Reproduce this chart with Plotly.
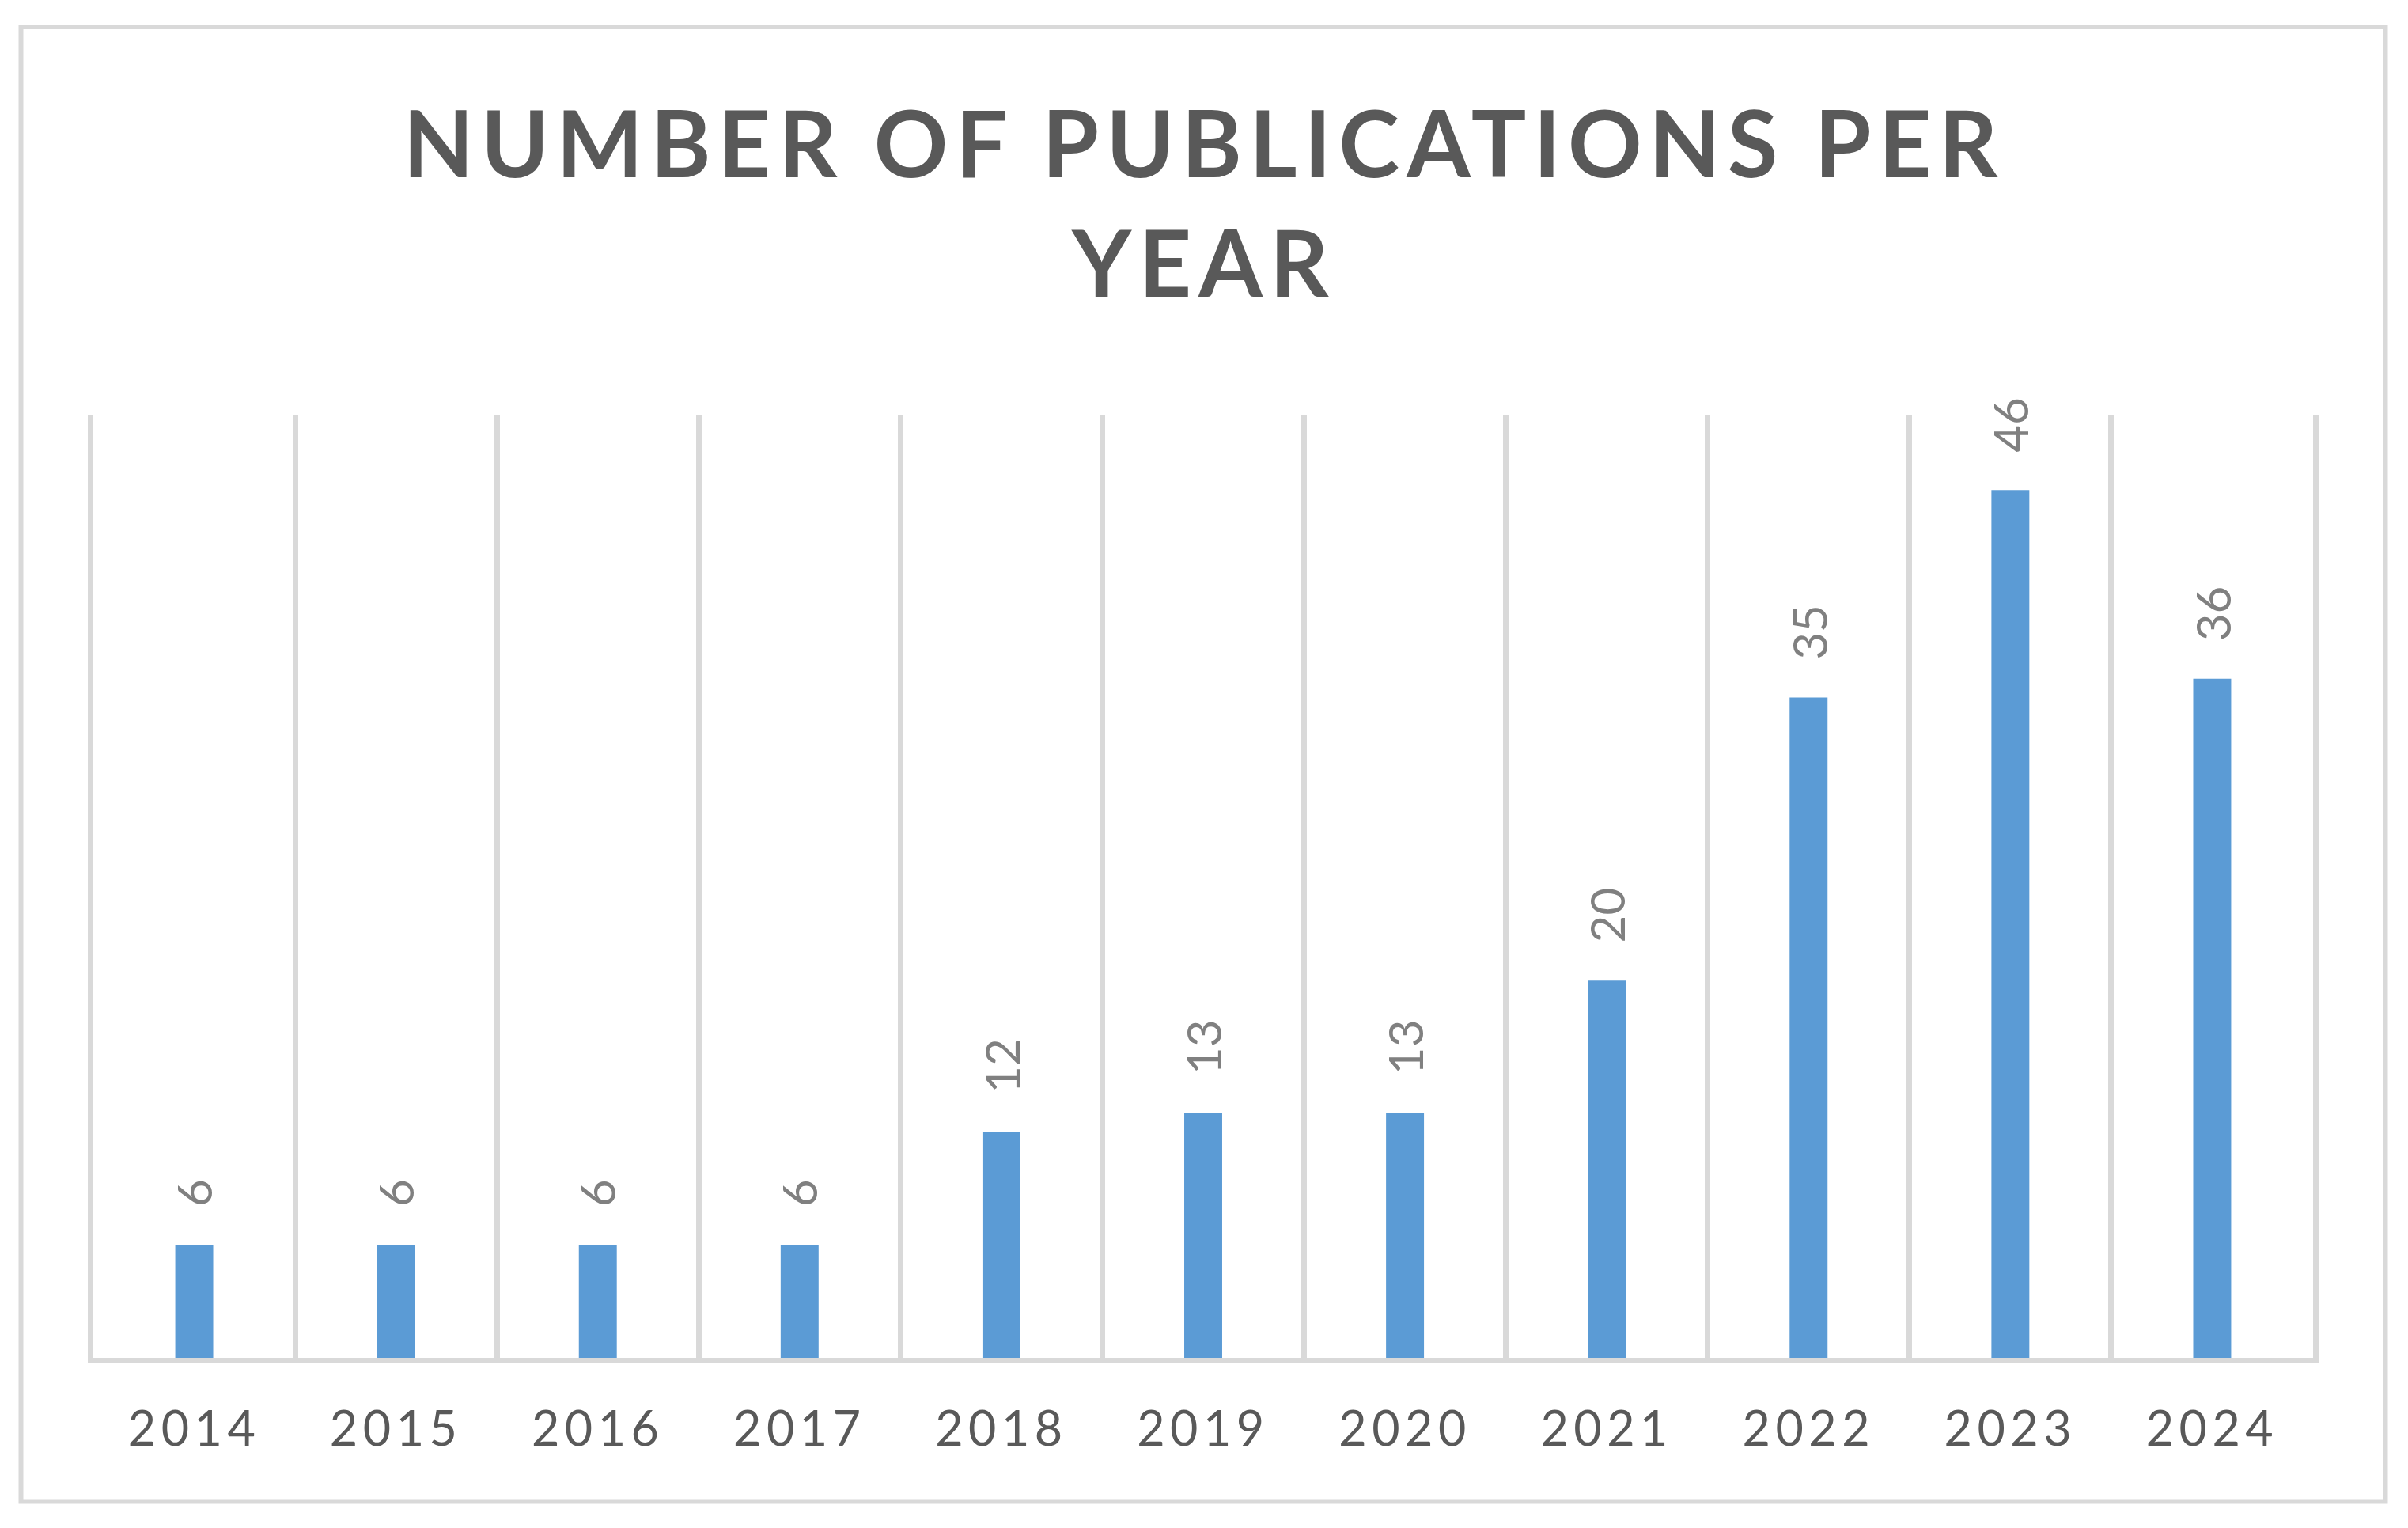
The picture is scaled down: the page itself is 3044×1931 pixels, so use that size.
import plotly.graph_objects as go

years = ["2014", "2015", "2016", "2017", "2018", "2019", "2020", "2021", "2022", "2023", "2024"]
publications = [6, 6, 6, 6, 12, 13, 13, 20, 35, 46, 36]
title_text = "NUMBER OF PUBLICATIONS PER<br>YEAR"

W, H = 3044, 1931
ML, MR, MT, MB = 118, 120, 524, 215
PW, PH = W - ML - MR, H - MT - MB

GRID = "#D9D9D9"
BAR = "#5B9BD5"
DARK = "#595959"
LABEL = "#808080"

fig = go.Figure()
fig.add_trace(go.Bar(
    x=years, y=publications,
    marker=dict(color=BAR, line=dict(width=0)),
    hoverinfo="x+y",
))

# data labels, placed by category index on the category axis
for i, v in enumerate(publications):
    fig.add_annotation(
        x=i, y=v, xref="x", yref="y",
        text=str(v), showarrow=False,
        textangle=-90, yanchor="bottom", xanchor="center",
        yshift=46,
        font=dict(family="Lato", size=60, color=LABEL),
    )

# outer chart border (paper coordinates relative to plot area)
bx0, bx1, by0, by1 = 26.5, 3015.5, 34, 1897.5
fig.add_shape(
    type="rect", xref="paper", yref="paper",
    x0=(bx0 - ML) / PW, x1=(bx1 - ML) / PW,
    y0=(H - MB - by1) / PH, y1=(H - MB - by0) / PH,
    line=dict(color=GRID, width=6), fillcolor="rgba(0,0,0,0)", layer="below",
)

fig.update_layout(
    width=W, height=H,
    margin=dict(l=ML, r=MR, t=MT, b=MB, autoexpand=False),
    paper_bgcolor="white", plot_bgcolor="white",
    showlegend=False,
    bargap=0.812,
    title=dict(
        text=title_text, x=0.5, xref="container", xanchor="center",
        y=1 - 224 / H, yref="container", yanchor="top",
        font=dict(family="Lato", size=116, color=DARK, weight="bold"),
    ),
    xaxis=dict(
        type="category", range=[-0.5, 10.5],
        tickson="boundaries", ticks="",
        showgrid=True, gridcolor=GRID, gridwidth=7,
        showline=True, linecolor=GRID, linewidth=7,
        tickfont=dict(family="Lato", size=61, color=DARK),
        ticklabelstandoff=31,
        zeroline=False,
    ),
    yaxis=dict(
        range=[0, 50], showgrid=False, zeroline=False,
        showticklabels=False, ticks="",
        showline=True, mirror=True, linecolor=GRID, linewidth=7,
    ),
)

post = """
document.body.style.margin = '0';
var gd = document.getElementById('{plot_id}');
gd.querySelectorAll('.gtitle').forEach(function(e){ e.style.letterSpacing='9.2px'; });
gd.querySelectorAll('.xtick text').forEach(function(e){ e.style.letterSpacing='6.5px'; });
"""
fig.write_html("out.html", post_script=post, config={"displayModeBar": False})
